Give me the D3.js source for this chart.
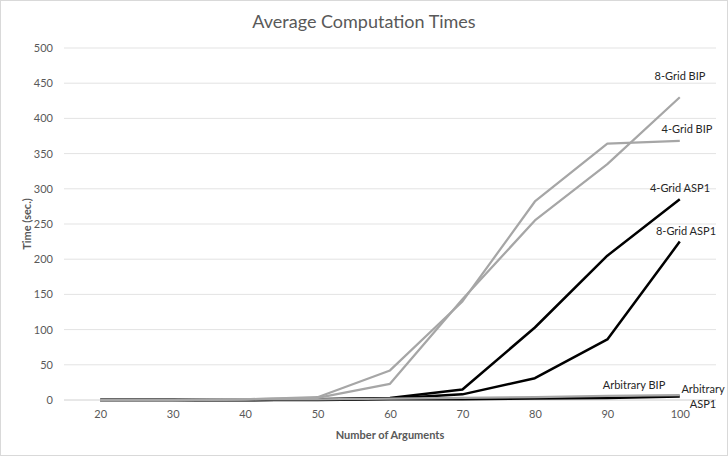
<!DOCTYPE html>
<html>
<head>
<meta charset="utf-8">
<script src="https://cdn.jsdelivr.net/npm/d3@7"></script>
<style>
	body { margin: 0; background: #fff; }
	svg { display: block; font-family: Lato, "Open Sans", sans-serif; }
</style>
</head>
<body>
<svg id="chart" width="728" height="456"></svg>
<script>
// data
const argCounts = [20, 30, 40, 50, 60, 70, 80, 90, 100];
const grid8BIP = [0, 0, 1, 3, 23, 143, 255, 335, 430];
const grid4BIP = [0, 0, 1, 4, 42, 140, 282, 364, 368];
const grid4ASP1 = [0, 0, 0, 1, 3, 15, 103, 205, 285];
const grid8ASP1 = [0, 0, 0, 1, 2, 8, 31, 86, 225];
const arbBIP = [0, 0, 1, 1, 2, 3, 4, 6, 7];
const arbASP1 = [0, 0, 0, 0, 1, 1, 2, 3, 5];
const yTicks = [0, 50, 100, 150, 200, 250, 300, 350, 400, 450, 500];

// black series first so the gray ones sit on top, as in the original
const series = [
	{ name: '4-Grid ASP1', values: grid4ASP1, color: '#000', width: 2.5, label: ['4-Grid ASP1'], lx: 680, ly: 192 },
	{ name: '8-Grid ASP1', values: grid8ASP1, color: '#000', width: 2.5, label: ['8-Grid ASP1'], lx: 686, ly: 235 },
	{ name: 'Arbitrary ASP1', values: arbASP1, color: '#000', width: 2.5, label: ['Arbitrary', 'ASP1'], lx: 703, ly: 393 },
	{ name: '8-Grid BIP', values: grid8BIP, color: '#a6a6a6', width: 2.25, label: ['8-Grid BIP'], lx: 680, ly: 80 },
	{ name: '4-Grid BIP', values: grid4BIP, color: '#a6a6a6', width: 2.25, label: ['4-Grid BIP'], lx: 687, ly: 133 },
	{ name: 'Arbitrary BIP', values: arbBIP, color: '#a6a6a6', width: 2.25, label: ['Arbitrary BIP'], lx: 634, ly: 389 }
];

const plotLeft = 64, plotRight = 716, plotTop = 48, plotBottom = 400;

const svg = d3.select('#chart');

svg.append('rect')
	.attr('x', 0.5).attr('y', 0.5)
	.attr('width', 727).attr('height', 455)
	.attr('fill', '#fff')
	.attr('stroke', '#d9d9d9');

const xScale = d3.scalePoint().domain(argCounts).range([plotLeft, plotRight]).padding(0.5);
const yScale = d3.scaleLinear().domain([0, 500]).range([plotBottom, plotTop]);

// gridlines
svg.append('g')
	.selectAll('line')
	.data(yTicks)
	.enter()
	.append('line')
	.attr('x1', plotLeft).attr('x2', plotRight)
	.attr('y1', d => yScale(d)).attr('y2', d => yScale(d))
	.attr('stroke', d => d === 0 ? '#d0d0d0' : '#e3e3e3')
	.attr('stroke-width', 1);

// y axis labels
const yAxis = svg.append('g')
	.attr('transform', `translate(${plotLeft - 6},0)`)
	.call(d3.axisLeft(yScale).tickValues(yTicks).tickSize(0).tickPadding(5));
yAxis.select('.domain').remove();
yAxis.selectAll('text').attr('fill', '#595959').style('font-size', '11px').style('font-family', 'Lato, sans-serif');

// x axis labels
const xAxis = svg.append('g')
	.attr('transform', `translate(0,${plotBottom})`)
	.call(d3.axisBottom(xScale).tickSize(0).tickPadding(10));
xAxis.select('.domain').remove();
xAxis.selectAll('text').attr('fill', '#595959').style('font-size', '11px').style('font-family', 'Lato, sans-serif');

const line = d3.line()
	.x((d, i) => xScale(argCounts[i]))
	.y(d => yScale(d));

svg.append('g')
	.selectAll('path')
	.data(series)
	.enter()
	.append('path')
	.attr('d', d => line(d.values))
	.attr('fill', 'none')
	.attr('stroke', d => d.color)
	.attr('stroke-width', d => d.width)
	.attr('stroke-linejoin', 'round');

// series labels
series.forEach(s => {
	const t = svg.append('text')
		.attr('x', s.lx).attr('y', s.ly)
		.attr('text-anchor', 'middle')
		.attr('fill', '#262626')
		.style('font-size', '11px');
	s.label.forEach((str, i) => {
		t.append('tspan').attr('x', s.lx).attr('dy', i === 0 ? 0 : 15).text(str);
	});
});

// title
svg.append('text')
	.attr('x', 364).attr('y', 28)
	.attr('text-anchor', 'middle')
	.attr('fill', '#595959')
	.style('font-size', '18px')
	.text('Average Computation Times');

// axis titles
svg.append('text')
	.attr('x', (plotLeft + plotRight) / 2).attr('y', 439)
	.attr('text-anchor', 'middle')
	.attr('fill', '#595959')
	.style('font-size', '11px')
	.style('font-weight', 'bold')
	.text('Number of Arguments');

svg.append('text')
	.attr('transform', `translate(31,${(plotTop + plotBottom) / 2}) rotate(-90)`)
	.attr('text-anchor', 'middle')
	.attr('fill', '#595959')
	.style('font-size', '11px')
	.style('font-weight', 'bold')
	.text('Time (sec.)');
</script>
</body>
</html>
